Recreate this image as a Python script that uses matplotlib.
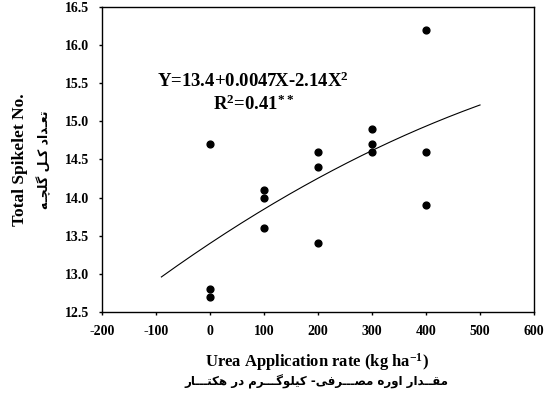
import numpy as np
import matplotlib
matplotlib.use("Agg")
import matplotlib.pyplot as plt

# datos
urea = [0, 0, 0, 100, 100, 100, 200, 200, 200, 300, 300, 300, 400, 400, 400]
spikelet = [14.7, 12.8, 12.7, 14.1, 14.0, 13.6, 14.6, 14.4, 13.4,
            14.9, 14.7, 14.6, 16.2, 14.6, 13.9]

# coeficientes de la regresion (los del rotulo, X^2 escalado por 1e-6)
coef_a = 13.4
coef_b = 0.0047
coef_c = -2.14e-6
rango_curva = (-90, 500)

xticks = [-200, -100, 0, 100, 200, 300, 400, 500, 600]
yticks = [12.5, 13.0, 13.5, 14.0, 14.5, 15.0, 15.5, 16.0, 16.5]

ylabel_en = "Total Spikelet No."
ylabel_fa = "تعـداد کـل گلچـه"
xlabel_en = "Urea Application rate (kg ha$^{-1}$)"
xlabel_fa = "مقــدار اوره مصـــرفی- کیلوگـــرم در هکتـــار"

# formas de presentacion arabes: (aislada, final, inicial, media)
formas = {
    "ا": ("\uFE8D", "\uFE8E", None, None),
    "د": ("\uFEA9", "\uFEAA", None, None),
    "ر": ("\uFEAD", "\uFEAE", None, None),
    "و": ("\uFEED", "\uFEEE", None, None),
    "ت": ("\uFE95", "\uFE96", "\uFE97", "\uFE98"),
    "ع": ("\uFEC9", "\uFECA", "\uFECB", "\uFECC"),
    "ل": ("\uFEDD", "\uFEDE", "\uFEDF", "\uFEE0"),
    "ج": ("\uFE9D", "\uFE9E", "\uFE9F", "\uFEA0"),
    "چ": ("\uFB7A", "\uFB7B", "\uFB7C", "\uFB7D"),
    "ه": ("\uFEE9", "\uFEEA", "\uFEEB", "\uFEEC"),
    "م": ("\uFEE1", "\uFEE2", "\uFEE3", "\uFEE4"),
    "ق": ("\uFED5", "\uFED6", "\uFED7", "\uFED8"),
    "ص": ("\uFEB9", "\uFEBA", "\uFEBB", "\uFEBC"),
    "ف": ("\uFED1", "\uFED2", "\uFED3", "\uFED4"),
    "ی": ("\uFBFC", "\uFBFD", "\uFBFE", "\uFBFF"),
    "ک": ("\uFB8E", "\uFB8F", "\uFB90", "\uFB91"),
    "گ": ("\uFB92", "\uFB93", "\uFB94", "\uFB95"),
}
TATWEEL = "\u0640"


def une_izq(ch):
    # la letra se une con la siguiente
    return ch == TATWEEL or (ch in formas and formas[ch][2] is not None)


def une_der(ch):
    return ch == TATWEEL or ch in formas


def persa(texto):
    salida = []
    for i, ch in enumerate(texto):
        if ch not in formas:
            salida.append(ch)
            continue
        prev = texto[i - 1] if i > 0 else " "
        sig = texto[i + 1] if i + 1 < len(texto) else " "
        con_prev = une_izq(prev)
        con_sig = une_der(sig) and formas[ch][2] is not None
        iso, fin, ini, med = formas[ch]
        if con_prev and con_sig:
            salida.append(med)
        elif con_prev:
            salida.append(fin)
        elif con_sig:
            salida.append(ini)
        else:
            salida.append(iso)
    return "".join(salida)[::-1]


plt.rcParams["font.family"] = ["Liberation Serif", "DejaVu Sans"]
plt.rcParams["font.weight"] = "bold"
plt.rcParams["mathtext.fontset"] = "custom"
plt.rcParams["mathtext.rm"] = "Liberation Serif:bold"
plt.rcParams["mathtext.it"] = "Liberation Serif:bold"
plt.rcParams["mathtext.bf"] = "Liberation Serif:bold"

fig = plt.figure(figsize=(5.48, 4.04), dpi=100)
ax = fig.add_axes([0.1861, 0.2277, 0.7884, 0.755])

ax.scatter(urea, spikelet, s=24, color="black", zorder=3)

xc = np.linspace(rango_curva[0], rango_curva[1], 200)
ax.plot(xc, coef_a + coef_b * xc + coef_c * xc ** 2, color="black", linewidth=0.8)

ax.set_xlim(-200, 600)
ax.set_ylim(12.5, 16.5)
ax.set_xticks(xticks)
ax.set_yticks(yticks)
ax.set_xticklabels([str(t) for t in xticks], fontsize=10, fontweight="bold")
ax.set_yticklabels(["%.1f" % t for t in yticks], fontsize=10, fontweight="bold")
ax.tick_params(direction="out", length=2.5, width=1, top=False, right=False)
ax.tick_params(axis="y", pad=6.5)
ax.tick_params(axis="x", pad=7)
for s in ax.spines.values():
    s.set_linewidth(1)

ax.text(80, 15.53, "Y=13.4+0.0047X-2.14X$^{2}$", fontsize=13.5, fontweight="bold",
        ha="center", va="center")
ax.text(80, 15.22, "R$^{2}$=0.41$^{**}$", fontsize=13.5, fontweight="bold",
        ha="center", va="center")

fig.text(0.036, 0.604, ylabel_en, rotation=90, fontsize=12.5, fontweight="bold",
         ha="center", va="center")
fig.text(0.079, 0.604, persa(ylabel_fa), rotation=90, fontsize=9, fontweight="bold",
         family=["DejaVu Sans"], ha="center", va="center")
fig.text(0.578, 0.104, xlabel_en, fontsize=12, fontweight="bold",
         ha="center", va="center")
fig.text(0.578, 0.054, persa(xlabel_fa), fontsize=8.5, fontweight="bold",
         family=["DejaVu Sans"], ha="center", va="center")

fig.savefig("out.png", dpi=100)
